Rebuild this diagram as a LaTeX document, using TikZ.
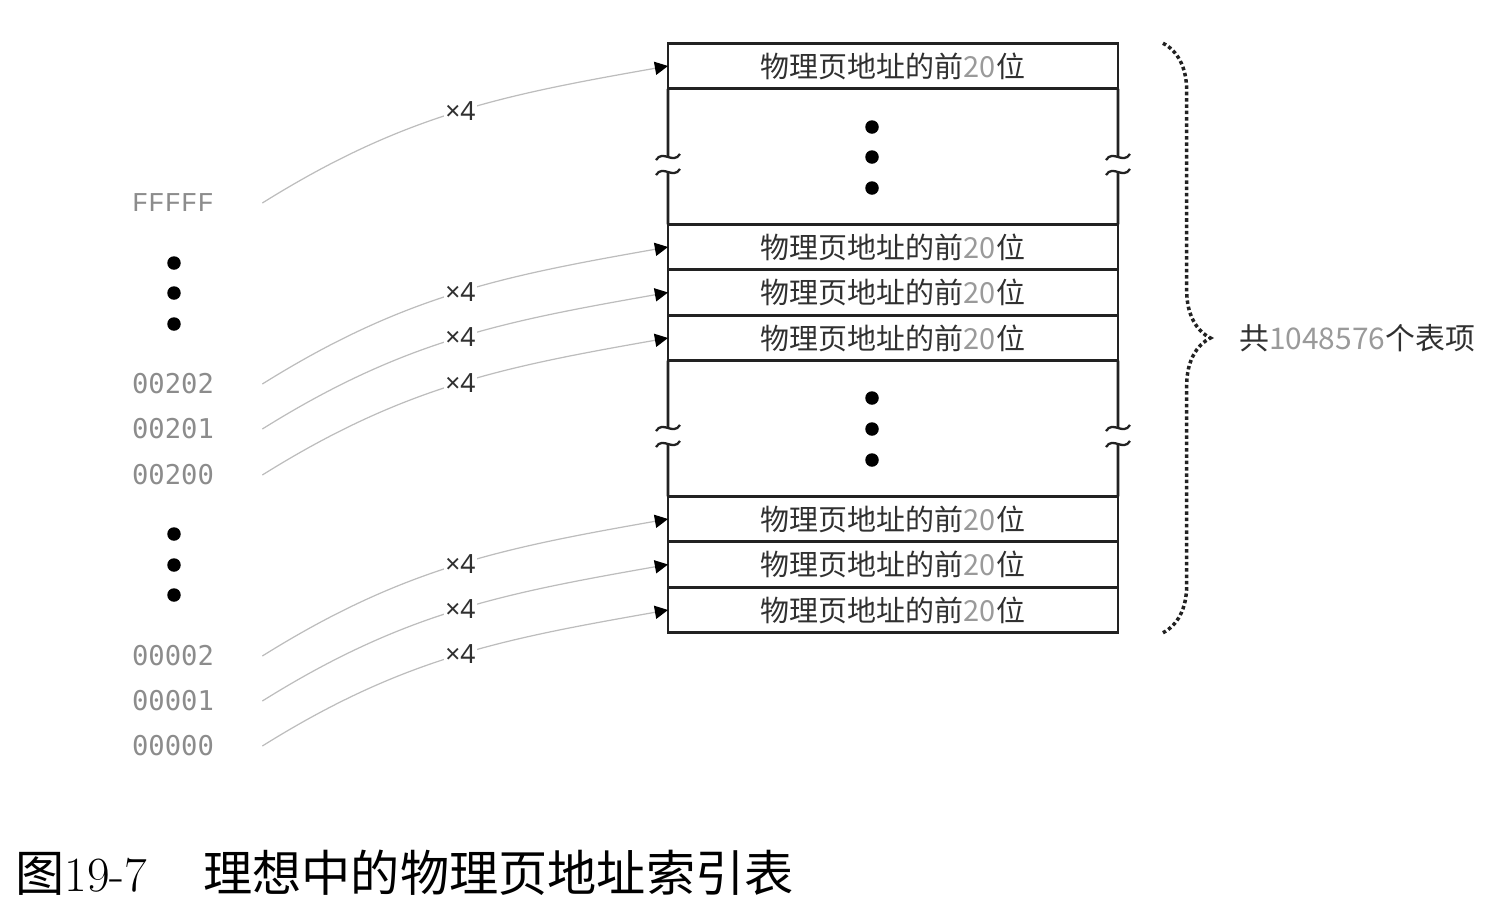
\documentclass[tikz,border=0pt]{standalone}
\usepackage{fontspec}
\newfontfamily\cjk{Noto Sans CJK SC}
\newfontfamily\latsans{Noto Sans}
\newfontfamily\hexmono{DejaVu Sans Mono}
\newfontfamily\typemono{Liberation Mono}
\usetikzlibrary{arrows.meta,decorations.pathreplacing,positioning}
\definecolor{cLine}{HTML}{222222}
\definecolor{cLink}{HTML}{BDBDBD}
\definecolor{cAddr}{HTML}{8C8C8C}
\definecolor{cText}{HTML}{303030}
\definecolor{cNum}{HTML}{9A9A9A}
\tikzset{
  entry/.style={rectangle,draw=cLine,line width=1.6pt,outer sep=0pt,inner sep=0pt,minimum width=9cm,minimum height=0.91cm,font=\cjk\fontsize{16.5}{18}\selectfont,text=cText},
  side/.style={draw=cLine,line width=1.6pt},
  brk/.style={draw=cLine,line width=1.3pt},
  bullet/.style={circle,fill=black,inner sep=0pt,minimum size=0.27cm},
  addr/.style={font=\hexmono\fontsize{15.5}{17}\selectfont,text=cAddr,minimum width=3.56cm,inner sep=0pt},
  link/.style={cLink,line width=.7pt,-{Triangle[length=7.5pt,width=7.5pt,color=black]}},
  mult/.style={font=\latsans\fontsize{15}{16}\selectfont,text=cText,fill=white,inner sep=1pt},
  brc/.style={decorate,decoration={brace,amplitude=0.95cm},line width=2pt,dash pattern=on 2pt off 1.6pt,cLine},
  tot/.style={font=\cjk\fontsize{17}{19}\selectfont,text=cText,anchor=west,inner sep=0pt},
  capt/.style={font=\fontsize{28}{32}\selectfont,anchor=west,inner sep=0pt},
}
\newcommand{\pfn}{物理页地址的前{\color{cNum}20}位}

\begin{document}
\begin{tikzpicture}[x=0.02cm,y=-0.02cm]
  \useasboundingbox (0,0) rectangle (1489,917);
  % table entries
  \node[entry] (e1) at (893,66) {\pfn};
  \node[entry] (e2) at (893,247) {\pfn};
  \node[entry,below=0pt of e2] (e3) {\pfn};
  \node[entry,below=0pt of e3] (e4) {\pfn};
  \node[entry] (e5) at (893,519) {\pfn};
  \node[entry,below=0pt of e5] (e6) {\pfn};
  \node[entry,below=0pt of e6] (e7) {\pfn};
  % broken sides
  \foreach \s/\x in {west/668,east/1118}{
    \draw[side] (e1.south \s) -- (\x,157);
    \draw[side] (\x,172) -- (e2.north \s);
    \draw[side] (e4.south \s) -- (\x,428);
    \draw[side] (\x,444) -- (e5.north \s);
    \foreach \y in {157,172,428,444}
      \draw[brk] (\x-12,\y+3) .. controls (\x-5,\y-8) and (\x+5,\y+8) .. (\x+12,\y-3);
  }
  \foreach \y in {127,157,188,398,429,460} \node[bullet] (t\y) at (872,\y) {};
  % addresses
  \node[addr,font=\typemono\fontsize{15.5}{17}\selectfont] (af) at (173,203) {FFFFF};
  \node[addr] (a202) at (173,384) {00202};
  \node[addr] (a201) at (173,429) {00201};
  \node[addr] (a200) at (173,475) {00200};
  \node[addr] (a2) at (173,656) {00002};
  \node[addr] (a1) at (173,701) {00001};
  \node[addr] (a0) at (173,746) {00000};
  \foreach \y in {263,293,324,534,565,595} \node[bullet] (s\y) at (174,\y) {};
  \foreach \a/\e in {af/e1,a202/e2,a201/e3,a200/e4,a2/e5,a1/e6,a0/e7}
    \draw[link] (\a.east) to[out=32,in=190] node[mult,pos=.51] (m\e) {×4} (\e.west);
  % brace
  \coordinate[right=0.9cm of e1.north east] (bt);
  \coordinate[right=0.9cm of e7.south east] (bb);
  \draw[brc] (bt) -- (bb);
  \node[tot] (tot) at (1239,338) {共{\color{cNum}1048576}个表项};
  % caption
  \node[capt] (cap) at (15,873) {{\cjk 图}19-7\hspace{32pt}{\cjk 理想中的物理页地址索引表}};
\end{tikzpicture}
\end{document}
